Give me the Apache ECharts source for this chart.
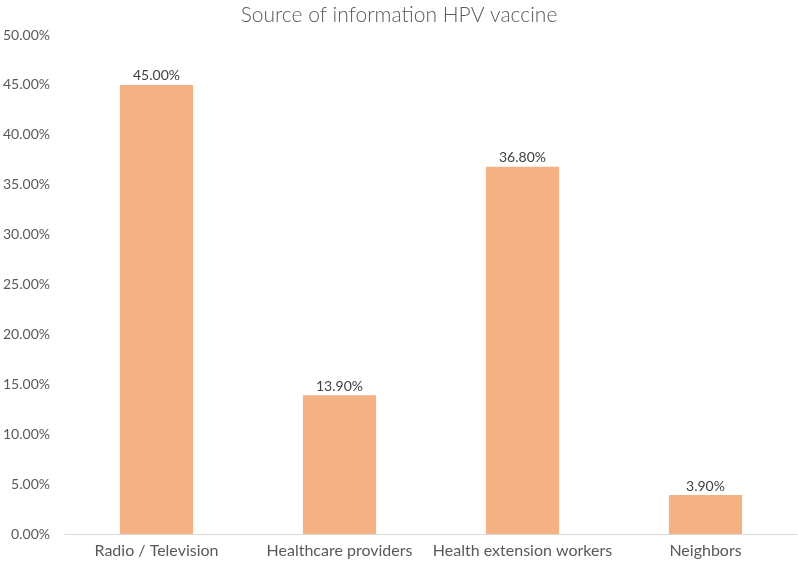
<!DOCTYPE html>
<html><head><meta charset="utf-8">
<script src="https://cdn.jsdelivr.net/npm/echarts@6/dist/echarts.min.js"></script>
<style>html,body{margin:0;padding:0;background:#fff}#c{width:798px;height:564px}</style>
</head><body><div id="c"></div>
<script>
const categories = ["Radio / Television", "Healthcare providers", "Health extension workers", "Neighbors"];
const values = [45.0, 13.9, 36.8, 3.9];
const chart = echarts.init(document.getElementById('c'));
chart.setOption({
  animation: false,
  title: { text: "Source of information HPV vaccine", left: 'center', top: 0,
    textStyle: { fontFamily: 'Lato', fontSize: 21, fontWeight: 300, color: '#595959' } },
  grid: { left: 62, right: 1, top: 35, bottom: 30 },
  xAxis: { type: 'category', data: categories,
    axisLine: { lineStyle: { color: '#d9d9d9' } }, axisTick: { show: false },
    axisLabel: { interval: 0, fontFamily: 'Lato', fontSize: 16, color: '#595959', margin: 9 } },
  yAxis: { type: 'value', min: 0, max: 50, interval: 5,
    splitLine: { show: false }, axisLine: { show: false }, axisTick: { show: false },
    axisLabel: { fontFamily: 'Lato', fontSize: 14, color: '#595959', margin: 15,
      formatter: v => v.toFixed(2) + '%' } },
  series: [{ type: 'bar', data: values, barWidth: '40%',
    itemStyle: { color: '#F4B183' },
    label: { show: true, position: 'top', distance: 2, fontFamily: 'Lato', fontSize: 14, color: '#404040',
      formatter: p => p.value.toFixed(2) + '%' } }]
});
</script></body></html>
